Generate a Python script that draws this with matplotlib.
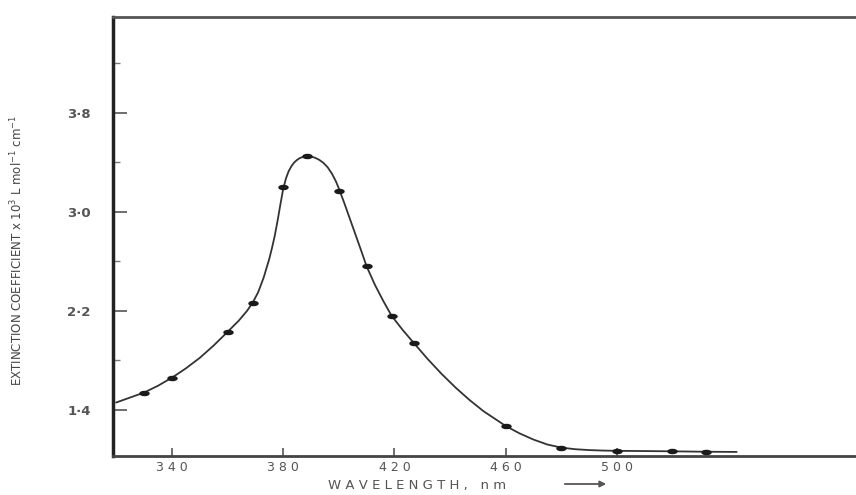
import matplotlib
matplotlib.use('Agg')
import matplotlib.pyplot as plt
from matplotlib.path import Path
from matplotlib.transforms import Affine2D

# measured points (nm, extinction coefficient x 10^3)
points_nm = [330, 340, 360, 369, 380, 388.6, 400, 410, 419, 427, 460, 480, 500, 520, 532]
points_eps = [1.54, 1.66, 2.03, 2.26, 3.20, 3.45, 3.17, 2.56, 2.16, 1.94, 1.27, 1.09, 1.07, 1.07, 1.06]

# smooth curve
curve_nm = [320, 325, 330, 335, 340, 345, 350, 355, 360, 364, 367, 369, 371, 373, 375,
            376, 377, 378, 379, 380, 381, 382, 383, 384, 385, 386, 387.5, 388.6, 390,
            391.5, 393, 394.5, 396, 397.5, 399, 400, 402, 405, 408, 410, 413, 416, 419,
            423, 427, 432, 437, 442, 447, 452, 456, 460, 465, 470, 475, 480, 485,
            490, 495, 500, 510, 520, 530, 543]
curve_eps = [1.46, 1.50, 1.54, 1.595, 1.66, 1.735, 1.82, 1.92, 2.03, 2.12, 2.20, 2.265, 2.35, 2.47, 2.62,
             2.71, 2.81, 2.93, 3.06, 3.185, 3.27, 3.33, 3.37, 3.40, 3.42, 3.435, 3.447, 3.45, 3.447,
             3.437, 3.42, 3.395, 3.36, 3.31, 3.245, 3.19, 3.07, 2.88, 2.69, 2.56, 2.41, 2.28, 2.16,
             2.045, 1.94, 1.81, 1.69, 1.58, 1.48, 1.39, 1.33, 1.27, 1.21, 1.16, 1.12, 1.095, 1.082,
             1.075, 1.071, 1.069, 1.067, 1.065, 1.062, 1.06]

x_ticks = [340, 380, 420, 460, 500]
x_labels = ['3 4 0', '3 8 0', '4 2 0', '4 6 0', '5 0 0']
y_ticks = [1.4, 2.2, 3.0, 3.8]
y_labels = ['1·4', '2·2', '3·0', '3·8']

fig = plt.figure(figsize=(8.56, 4.95), dpi=100)
ax = fig.add_axes([0.132, 0.079, 0.868, 0.887])

ax.plot(curve_nm, curve_eps, color='#333333', lw=1.3, zorder=2,
        solid_joinstyle='round')

# flattened dot marker, like the hand-drawn points
ell = Path.unit_circle().transformed(Affine2D().scale(1.0, 0.45))
ax.plot(points_nm, points_eps, linestyle='None', marker=ell, markersize=6.5,
        color='#1a1a1a', zorder=3)

ax.set_xlim(318.8, 586)
ax.set_ylim(1.028, 4.576)

ax.set_xticks(x_ticks)
ax.set_xticklabels(x_labels, fontsize=9, color='#555555')
ax.set_yticks(y_ticks)
ax.set_yticklabels(y_labels, fontsize=9.5, color='#555555', fontweight='bold')
ax.set_yticks([1.8, 2.6, 3.4, 4.2], minor=True)

ax.tick_params(axis='x', direction='in', length=6, width=1.2, color='#555555', pad=4)
ax.tick_params(axis='y', which='major', direction='in', length=10, width=1.2,
               color='#555555', pad=16)
ax.tick_params(axis='y', which='minor', direction='in', length=5, width=1.0, color='#777777')

ax.spines['right'].set_visible(False)
ax.spines['left'].set_linewidth(2.5)
ax.spines['left'].set_color('#222222')
ax.spines['bottom'].set_linewidth(2.0)
ax.spines['bottom'].set_color('#444444')
ax.spines['top'].set_linewidth(2.0)
ax.spines['top'].set_color('#555555')

fig.text(0.487, 1 - 485 / 495, 'W A V E L E N G T H ,   n m', ha='center', va='center',
         fontsize=9.5, color='#555555')
ax.annotate('', xy=(609 / 856, 1 - 484 / 495), xytext=(562 / 856, 1 - 484 / 495),
            xycoords='figure fraction',
            arrowprops=dict(arrowstyle='-|>', color='#555555', lw=1.3, mutation_scale=9))

fig.text(17 / 856, 1 - 250 / 495,
         'EXTINCTION COEFFICIENT x 10$^3$ L mol$^{-1}$ cm$^{-1}$',
         rotation=90, ha='center', va='center', fontsize=8.5, color='#444444',
         family=['Liberation Sans Narrow', 'DejaVu Sans'])

fig.savefig('out.png', dpi=100)
